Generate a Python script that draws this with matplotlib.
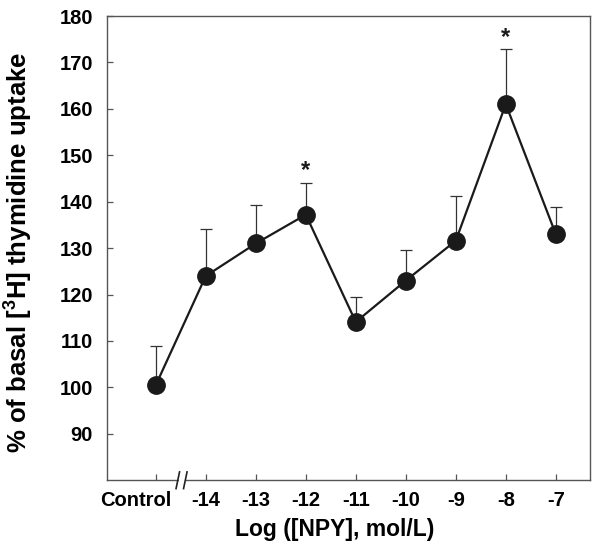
import numpy as np
import matplotlib
matplotlib.use("Agg")
import matplotlib.pyplot as plt
import matplotlib.transforms as mtransforms

plt.rcParams['font.family'] = ['Liberation Sans', 'DejaVu Sans']
plt.rcParams['font.weight'] = 'bold'
plt.rcParams['mathtext.fontset'] = 'custom'
plt.rcParams['mathtext.rm'] = 'Liberation Sans:bold'
plt.rcParams['mathtext.bf'] = 'Liberation Sans:bold'
plt.rcParams['mathtext.default'] = 'bf'

# data
labels = ["Control", "-14", "-13", "-12", "-11", "-10", "-9", "-8", "-7"]
means = [100.5, 124.0, 131.0, 137.2, 114.1, 123.0, 131.6, 161.0, 133.0]
upper = [108.9, 134.2, 139.3, 144.1, 119.5, 129.5, 141.2, 172.8, 138.9]
starred = ["-12", "-8"]

x = np.arange(len(labels))
err = np.array(upper) - np.array(means)

fig = plt.figure(figsize=(6, 5.52), dpi=100)
ax = fig.add_axes([0.178, 0.130, 0.805, 0.841])

ax.errorbar(x, means, yerr=[np.zeros_like(err), err], fmt='none',
            ecolor='#333333', elinewidth=0.9, capsize=4.6, capthick=0.9, zorder=2)
ax.plot(x, means, color='#1a1a1a', lw=1.6, marker='o', markersize=12.5,
        markerfacecolor='#1a1a1a', markeredgecolor='#1a1a1a', zorder=3)

for lab in starred:
    i = labels.index(lab)
    ax.text(x[i], upper[i] + 1.2, "*", ha='center', va='baseline',
            fontsize=17, fontweight='bold', color='#1a1a1a')

ax.set_xlim(-0.98, 8.68)
ax.set_ylim(80, 180)
ax.set_xticks(x)
ax.set_xticklabels(labels)
ax.set_yticks(np.arange(90, 181, 10))

for s in ax.spines.values():
    s.set_color('#555555')
    s.set_linewidth(1.0)
ax.tick_params(axis='both', direction='in', length=4, width=0.9, color='#555555',
               labelsize=14.5)
ax.tick_params(axis='x', pad=8)
ax.tick_params(axis='y', pad=10)
for t in ax.get_xticklabels() + ax.get_yticklabels():
    t.set_fontweight('bold')

# "Control" label sits left of its tick, clear of the break
first = ax.get_xticklabels()[0]
first.set_transform(first.get_transform() +
                    mtransforms.ScaledTranslation(-0.2, 0, fig.dpi_scale_trans))

ax.set_xlabel("Log ([NPY], mol/L)", fontsize=16.5, fontweight='bold')
ax.xaxis.set_label_coords(0.471, -0.082)
ax.set_ylabel("% of basal [$^{3}$H] thymidine uptake", fontsize=18.5,
              fontweight='bold')
ax.yaxis.set_label_coords(-0.148, 0.49)

# axis break marks
trans = mtransforms.blended_transform_factory(ax.transData, ax.transAxes)
ax.add_patch(plt.Rectangle((0.46, -0.01), 0.11, 0.02, transform=trans,
                           color='white', clip_on=False, zorder=5))
for xb in (0.44, 0.59):
    ax.plot([xb - 0.035, xb + 0.035], [-0.018, 0.018], transform=trans,
            color='#222222', lw=1.2, clip_on=False, zorder=6)

fig.savefig("out.png", dpi=100)
